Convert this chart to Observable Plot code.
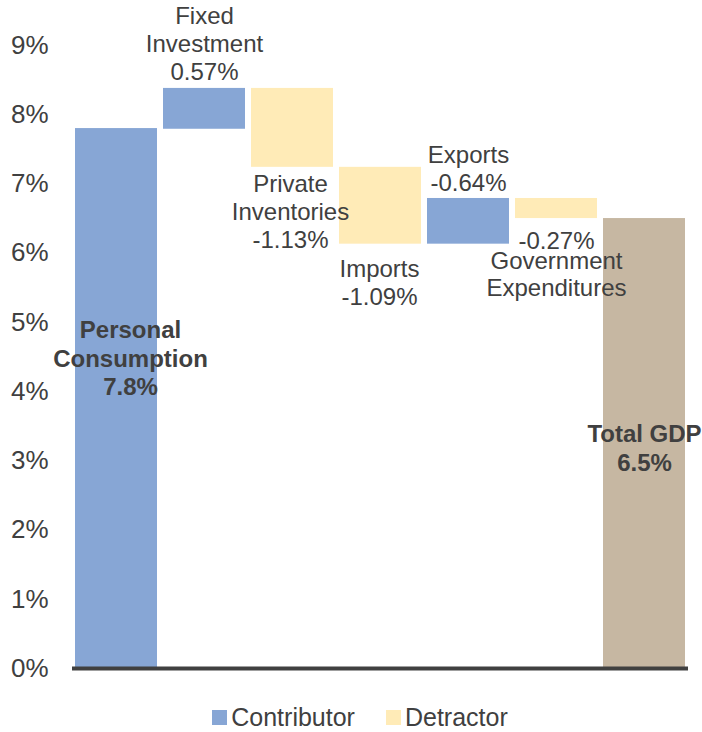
<!DOCTYPE html>
<html>
<head>
<meta charset="utf-8">
<script src="https://cdn.jsdelivr.net/npm/d3@7"></script>
<script src="https://cdn.jsdelivr.net/npm/@observablehq/plot@0.6"></script>
<style>
  html, body { margin: 0; padding: 0; background: #fff; }
  body { width: 702px; height: 732px; overflow: hidden; font-family: "Liberation Sans", Arial, sans-serif; }
  #chart svg { display: block; }
  #legend { display: flex; justify-content: center; align-items: center; height: 28px; line-height: 28px; margin-top: 3px; color: #404040; font-size: 25px; padding-left: 18px; }
  #legend .item { display: flex; align-items: center; }
  #legend .sw { width: 15px; height: 15px; margin-right: 4px; }
  #legend .gap { width: 31px; }
</style>
</head>
<body>
<div id="chart"></div>
<div id="legend"></div>
<script>
// ---- data ----
const categories = ["Personal Consumption", "Fixed Investment", "Private Inventories", "Imports", "Exports", "Government Expenditures", "Total GDP"];
const barLow  = [0,   7.79, 7.24, 6.13, 6.13, 6.50, 0];
const barHigh = [7.8, 8.38, 8.38, 7.24, 6.79, 6.79, 6.5];
const barType = ["Contributor", "Contributor", "Detractor", "Detractor", "Contributor", "Detractor", "Total"];
const labelText = ["Personal\nConsumption\n7.8%", "Fixed\nInvestment\n0.57%", "Private\nInventories\n-1.13%", "Imports\n-1.09%", "Exports\n-0.64%", "-0.27%", "Total GDP\n6.5%"];
const extraLabel = ["", "", "", "", "", "Government\nExpenditures", ""];
const yTicks = [0, 1, 2, 3, 4, 5, 6, 7, 8, 9];
const legendItems = ["Contributor", "Detractor"];

const colorDomain = ["Contributor", "Detractor", "Total"];
const colorRange = ["#87A6D5", "#FFEBB7", "#C6B7A2"];

const rows = categories.map((c, i) => ({
  cat: c, lo: barLow[i], hi: barHigh[i], type: barType[i],
  label: labelText[i], extra: extraLabel[i]
}));

const ink = "#404040";
const font = "Liberation Sans, Arial, sans-serif";

// label placement: anchor ("lo","hi","mid"), dy, dx, bold
const place = [
  {a: "mid", dy: -41, dx: 14, bold: true},
  {a: "hi", dy: -45, dx: 0},
  {a: "lo", dy: 44, dx: -2},
  {a: "lo", dy: 38, dx: -1},
  {a: "hi", dy: -30, dx: 0},
  {a: "lo", dy: 21, dx: 0},
  {a: "mid", dy: 4, dx: 0, bold: true}
];

const labelMarks = rows.map((r, i) => {
  const p = place[i];
  const yAcc = p.a === "hi" ? (d => d.hi) : p.a === "lo" ? (d => d.lo) : (d => (d.lo + d.hi) / 2);
  return Plot.text([r], {
    x: "cat", y: yAcc, text: "label",
    dy: p.dy, dx: p.dx, lineAnchor: "middle", lineHeight: 1.17,
    fontSize: 24, fontWeight: p.bold ? "bold" : "normal",
    fill: ink, fontFamily: font
  });
});

const chart = Plot.plot({
  width: 702,
  height: 700,
  marginTop: 45,
  marginBottom: 32,
  marginLeft: 68,
  marginRight: 10,
  style: {fontFamily: font, color: ink, background: "#fff"},
  x: {domain: categories, padding: 0.07, axis: null},
  y: {domain: [0, 9], ticks: yTicks, tickSize: 0, tickPadding: 20, tickFormat: d => d + "%", label: null},
  color: {domain: colorDomain, range: colorRange},
  marks: [
    Plot.axisY({ticks: yTicks, tickSize: 0, tickPadding: 20, tickFormat: d => d + "%", fontSize: 26, fill: ink, label: null}),
    Plot.barY(rows, {x: "cat", y1: "lo", y2: "hi", fill: "type"}),
    Plot.ruleY([0], {stroke: ink, strokeWidth: 4, insetLeft: 4, insetRight: 4}),
    ...labelMarks,
    Plot.text(rows.filter(d => d.extra), {
      x: "cat", y: "lo", text: "extra", dy: 55, lineAnchor: "middle", lineHeight: 1.15,
      fontSize: 24, fill: ink, fontFamily: font
    })
  ]
});
document.getElementById("chart").appendChild(chart);

// legend
const legend = document.getElementById("legend");
legendItems.forEach((name, i) => {
  if (i > 0) { const g = document.createElement("span"); g.className = "gap"; legend.appendChild(g); }
  const item = document.createElement("span"); item.className = "item";
  const sw = document.createElement("span"); sw.className = "sw";
  sw.style.background = colorRange[colorDomain.indexOf(name)];
  const t = document.createElement("span"); t.textContent = name;
  item.appendChild(sw); item.appendChild(t);
  legend.appendChild(item);
});
</script>
</body>
</html>
